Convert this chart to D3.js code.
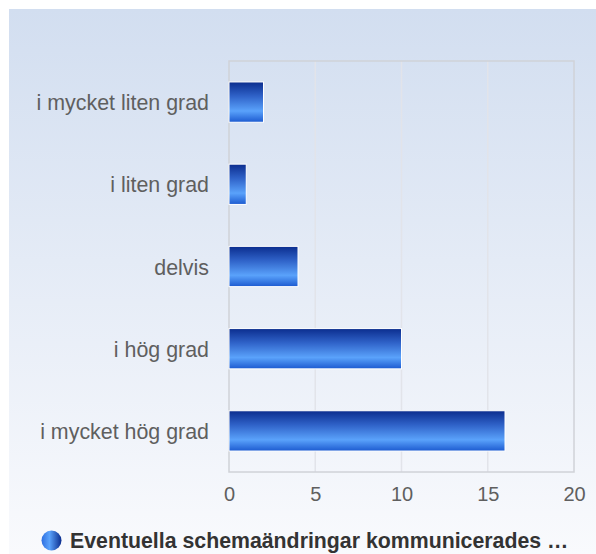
<!DOCTYPE html>
<html>
<head>
<meta charset="utf-8">
<script src="https://cdn.jsdelivr.net/npm/d3@7"></script>
<style>
  body { margin: 0; background: #fff; }
  text { font-family: "Liberation Sans", Arial, sans-serif; }
</style>
</head>
<body>
<div id="chart"></div>
<script>
// chart data
var categories = ["i mycket liten grad", "i liten grad", "delvis", "i hög grad", "i mycket hög grad"];
var values = [2, 1, 4, 10, 16];
var ticks = [0, 5, 10, 15, 20];
var seriesName = "Eventuella schemaändringar kommunicerades …";

var width = 596, height = 554;
var margin = {top: 61, right: 22, bottom: 82, left: 229};

var svg = d3.select("#chart").append("svg")
    .attr("width", width)
    .attr("height", height);

var defs = svg.append("defs");

//background gradient
var bg = defs.append("linearGradient")
    .attr("id", "bgGrad")
    .attr("x1", 0).attr("y1", 0).attr("x2", 0).attr("y2", 1);
bg.append("stop").attr("offset", "0%").attr("stop-color", "#d2def0");
bg.append("stop").attr("offset", "100%").attr("stop-color", "#f9fafd");

//bar gradient, dark on top, light band, darker bottom
var barGrad = defs.append("linearGradient")
    .attr("id", "barGrad")
    .attr("x1", 0).attr("y1", 0).attr("x2", 0).attr("y2", 1);
barGrad.append("stop").attr("offset", "0%").attr("stop-color", "#0b2d8e");
barGrad.append("stop").attr("offset", "35%").attr("stop-color", "#2f62c8");
barGrad.append("stop").attr("offset", "72%").attr("stop-color", "#5aa2fb");
barGrad.append("stop").attr("offset", "100%").attr("stop-color", "#1c5ad0");

var legGrad = defs.append("linearGradient")
    .attr("id", "legGrad")
    .attr("x1", 0).attr("y1", 0).attr("x2", 1).attr("y2", 0);
legGrad.append("stop").attr("offset", "0%").attr("stop-color", "#2f6fe0");
legGrad.append("stop").attr("offset", "40%").attr("stop-color", "#5aa2fb");
legGrad.append("stop").attr("offset", "100%").attr("stop-color", "#0b2d8e");

svg.append("rect")
    .attr("x", 9)
    .attr("y", 9)
    .attr("width", width - 9)
    .attr("height", height - 9)
    .attr("fill", "url(#bgGrad)");

var plotW = width - margin.left - margin.right;
var plotH = height - margin.top - margin.bottom;

var xScale = d3.scaleLinear()
    .domain([0, 20])
    .range([margin.left, margin.left + plotW]);

var yScale = d3.scaleBand()
    .domain(categories)
    .range([margin.top, margin.top + plotH])
    .paddingInner(0.51)
    .paddingOuter(0.255);

//grid lines
svg.append("g").selectAll("line")
    .data(ticks.slice(1, -1))
    .enter()
    .append("line")
    .attr("x1", function(d) { return xScale(d); })
    .attr("x2", function(d) { return xScale(d); })
    .attr("y1", margin.top)
    .attr("y2", margin.top + plotH)
    .attr("stroke", "#e2e4ea")
    .attr("stroke-width", 1.5);

//plot frame
svg.append("rect")
    .attr("x", margin.left)
    .attr("y", margin.top)
    .attr("width", plotW)
    .attr("height", plotH)
    .attr("fill", "none")
    .attr("stroke", "#d0d2d8")
    .attr("stroke-width", 1.5);

//bars
svg.append("g").selectAll("rect")
    .data(values)
    .enter()
    .append("rect")
    .attr("x", xScale(0))
    .attr("y", function(d, i) { return yScale(categories[i]); })
    .attr("width", function(d) { return xScale(d) - xScale(0); })
    .attr("height", yScale.bandwidth())
    .attr("fill", "url(#barGrad)")
    .attr("stroke", "#ffffff")
    .attr("stroke-width", 1);

//category labels
var yAxis = d3.axisLeft(yScale).tickSize(0).tickPadding(20);
var yG = svg.append("g")
    .attr("transform", "translate(" + margin.left + ",0)")
    .call(yAxis);
yG.select(".domain").remove();
yG.selectAll("text")
    .attr("fill", "#5f5f5f")
    .attr("dy", "0.38em")
    .style("font-size", "21.4px")
    .style("font-family", "'Liberation Sans', Arial, sans-serif");

//value axis
var xAxis = d3.axisBottom(xScale).tickValues(ticks).tickSize(0).tickPadding(15);
var xG = svg.append("g")
    .attr("transform", "translate(0," + (margin.top + plotH) + ")")
    .call(xAxis);
xG.select(".domain").remove();
xG.selectAll("text")
    .attr("fill", "#5f5f5f")
    .style("font-size", "20px")
    .style("font-family", "'Liberation Sans', Arial, sans-serif");

//legend
svg.append("circle")
    .attr("cx", 51.5)
    .attr("cy", 540.5)
    .attr("r", 10)
    .attr("fill", "url(#legGrad)");
svg.append("text")
    .attr("x", 70)
    .attr("y", 548)
    .attr("fill", "#333333")
    .style("font-size", "21.3px")
    .style("font-weight", "bold")
    .text(seriesName);
</script>
</body>
</html>
